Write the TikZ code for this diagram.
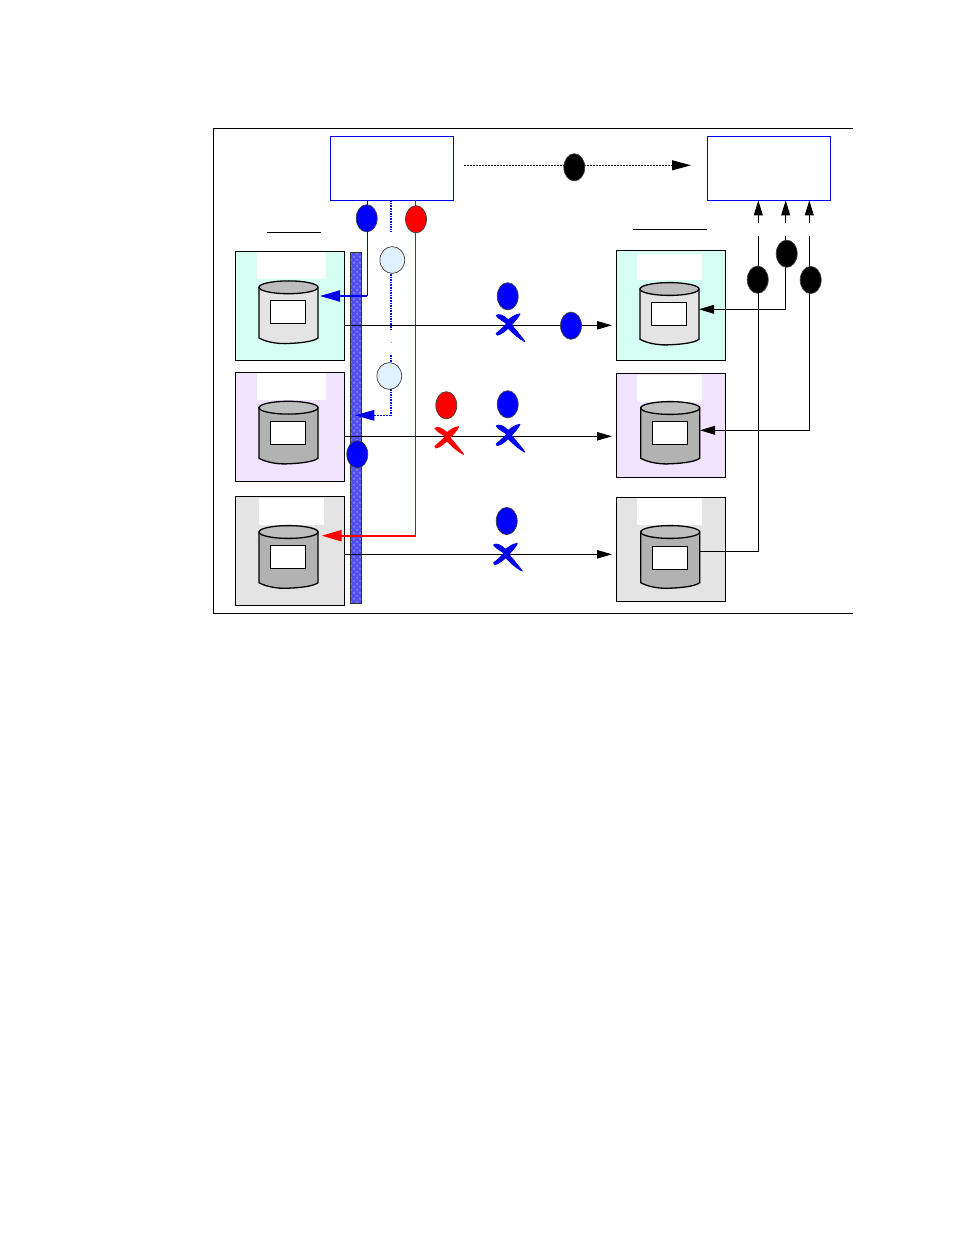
\documentclass[tikz,border=0pt]{standalone}
\usetikzlibrary{arrows.meta,shapes.geometric,calc,patterns}
\definecolor{mintbg}{HTML}{D4FFF2}
\definecolor{lilacbg}{HTML}{F0E3FE}
\definecolor{greybg}{HTML}{E4E4E4}
\definecolor{drumlight}{HTML}{E4E4E4}
\definecolor{drumdark}{HTML}{B2B2B2}
\definecolor{drumtop}{HTML}{BEBEBE}
\definecolor{busblue}{HTML}{5050F0}
\definecolor{busdot}{HTML}{9090FF}
\definecolor{paleblue}{HTML}{DFF0FF}
\definecolor{linkblue}{HTML}{0000F0}
\tikzset{
  every node/.style={inner sep=0pt,outer sep=0pt},
  hostbox/.style={draw=linkblue,line width=.55pt,fill=white,minimum width=61.5pt,minimum height=32pt},
  sitebox/.style={draw=black,line width=.55pt,minimum width=54.5pt},
  patch/.style={fill=white,minimum height=13.5pt},
  volrect/.style={draw=black,line width=.5pt,fill=white,minimum width=17.7pt,minimum height=11.7pt},
  tag/.style={ellipse,draw=black!75,line width=.35pt,minimum width=10.5pt,minimum height=13.6pt},
  bluetag/.style={tag,fill=blue},
  redtag/.style={tag,fill=red},
  blacktag/.style={tag,fill=black},
  paletag/.style={tag,fill=paleblue,minimum width=12.4pt,minimum height=13.4pt},
  rule/.style={draw=black,line width=.5pt},
  link/.style={draw=black,line width=.5pt},
  head/.style={-{Triangle[length=7.5pt,width=4.2pt]}},
  smallhead/.style={-{Triangle[length=7.5pt,width=4.4pt]}},
  thinblue/.style={draw=linkblue,line width=.5pt},
  thinred/.style={draw=red!85!black,line width=.5pt},
  dotblue/.style={draw=linkblue,line width=.75pt,dash pattern=on .8pt off .5pt},
  bighead/.style={-{Triangle[length=10pt,width=5.6pt]}},
}
% #1 name, #2 left x, #3 lid centre y, #4 side end y, #5 body colour
\newcommand{\drum}[5]{%
  \path[draw=black,line width=.65pt,fill=#5]
    (#2,#3) -- (#2,#4)
    .. controls ($(#2,#4)+(9,5)$) and ($(#2,#4)+(22,6)$) .. ($(#2,#4)+(29,5.5)$)
    .. controls ($(#2,#4)+(38,5.2)$) and ($(#2,#4)+(54,4)$) .. ($(#2,#4)+(59,0)$)
    -- ($(#2,#3)+(59,0)$) -- cycle;
  \path[draw=black,line width=.65pt,fill=drumtop] ($(#2,#3)+(29.5,0)$) ellipse[x radius=14.75pt,y radius=3.2pt];
  \node[minimum width=29.5pt,minimum height=1pt] (#1) at ($(#2,#3)+(29.5,0)$) {};
}
% #1, #2 centre of the hand-drawn cross, #3 colour
\newcommand{\crossmark}[3]{%
  \filldraw[#3,line width=.55pt,line join=round,shift={(#1,#2)}]
    (-12,9) .. controls (-6,4) and (-3,1) .. (-1.5,-1)
    .. controls (-4,-3) and (-9,-5) .. (-12,-9)
    .. controls (-9,-11) and (-5,-9) .. (0,-4.5)
    .. controls (3,-7) and (7,-10) .. (11.5,-10.5)
    .. controls (10,-7) and (6,-3) .. (3,0.5)
    .. controls (7,5) and (12,11) .. (16.5,17)
    .. controls (11,14) and (6,10) .. (0,3.5)
    .. controls (-3,6) and (-7,10) .. (-11,10.5) -- cycle;
}
\begin{document}
\begin{tikzpicture}[x=.5pt,y=-.5pt]
\useasboundingbox (0,0) rectangle (954,1235);
\path[fill=white] (0,0) rectangle (954,1235);

% outer frame, open on its right side
\coordinate (frameTR) at (853,128.5);
\coordinate (frameTL) at (213.5,128.5);
\coordinate (frameBL) at (213.5,613.5);
\coordinate (frameBR) at (853,613.5);
\draw[rule] (frameTR) -- (frameTL) -- (frameBL) -- (frameBR);

% column rules
\coordinate (ruleLa) at (267.3,232.3);
\coordinate (ruleLb) at (320.7,232.3);
\coordinate (ruleRa) at (633.3,229.3);
\coordinate (ruleRb) at (706.7,229.3);
\draw[rule] (ruleLa) -- (ruleLb);
\draw[rule] (ruleRa) -- (ruleRb);

% host boxes
\node[hostbox] (hostL) at (391.8,168.3) {};
\node[hostbox] (hostR) at (768.8,168.3) {};

% left sites
\node[sitebox,fill=mintbg,minimum height=54.5pt] (siteLa) at (289.8,305.8) {};
\node[sitebox,fill=lilacbg,minimum height=54.5pt] (siteLb) at (289.8,426.8) {};
\node[sitebox,fill=greybg,minimum height=54.5pt] (siteLc) at (289.8,550.8) {};
\node[patch,minimum width=34.5pt] (patchLa) at (291.5,265.5) {};
\node[patch,minimum width=34.5pt] (patchLb) at (291.5,386.8) {};
\node[patch,minimum width=32.5pt] (patchLc) at (291.5,511) {};

% right sites
\node[sitebox,fill=mintbg,minimum height=55pt] (siteRa) at (670.8,305.3) {};
\node[sitebox,fill=lilacbg,minimum height=51.8pt] (siteRb) at (670.8,425.5) {};
\node[sitebox,fill=greybg,minimum height=52pt] (siteRc) at (670.8,549.3) {};
\node[patch,minimum width=32.5pt,minimum height=12.9pt] (patchRa) at (669.5,266.9) {};
\node[patch,minimum width=32.5pt] (patchRb) at (669.5,388.3) {};
\node[patch,minimum width=32.5pt] (patchRc) at (669.5,511.8) {};

% drums with their volume labels
\drum{drumLa}{259}{287.3}{338}{drumlight}
\drum{drumLb}{259}{407.7}{458.3}{drumdark}
\drum{drumLc}{259}{532}{582.7}{drumdark}
\drum{drumRa}{640}{289}{339.3}{drumlight}
\drum{drumRb}{640.7}{408}{458.3}{drumdark}
\drum{drumRc}{640.7}{532}{582.7}{drumdark}
\node[volrect] (volLa) at (288,312.3) {};
\node[volrect] (volLb) at (288,432.8) {};
\node[volrect] (volLc) at (288,556.8) {};
\node[volrect] (volRa) at (669,314) {};
\node[volrect] (volRb) at (670,432.8) {};
\node[volrect] (volRc) at (670,557.8) {};

% shared bus: dotted fill over a solid ground
\node[draw=black!80,line width=.4pt,fill=busblue,minimum width=5.7pt,minimum height=175.3pt] (bus) at (356,428) {};
\fill[pattern=crosshatch dots,pattern color=busdot] (bus.north west) rectangle (bus.south east);
\draw[black!80,line width=.4pt] (bus.north west) rectangle (bus.south east);

% control links out of the left host
\coordinate (tapB) at (367.3,296);
\coordinate (tipB) at (320,296);
\coordinate (tapR) at (415.7,535.7);
\coordinate (tipR) at (321.7,535.7);
\draw[thinred] (hostL.south -| tapR) -- (tapR);
\draw[draw=red,line width=.85pt,bighead] (tapR) -- (tipR);
\draw[thinblue] (hostL.south -| tapB) -- (tapB);
\draw[draw=linkblue,line width=.85pt,bighead] (tapB) -- (tipB);

% dotted path through the two pale markers
\coordinate (dotA) at (391,232);
\coordinate (dotB) at (391,274);
\coordinate (dotC) at (391,329);
\coordinate (dotD) at (391,341.5);
\coordinate (dotE) at (391,343);
\coordinate (dotF) at (391,355);
\coordinate (dotG) at (391,363);
\coordinate (dotH) at (391,389);
\coordinate (dotI) at (391,415.3);
\coordinate (dotTip) at (355.3,415.3);
\draw[dotblue] (hostL.south -| dotA) -- (dotA);
\draw[dotblue] (dotB) -- (dotC);
\draw[draw=linkblue!40,line width=.5pt] (dotD) -- (dotE);
\draw[dotblue] (dotF) -- (dotG);
\draw[dotblue] (dotH) -- (dotI);
\draw[thinblue,dash pattern=on 1pt off .5pt] (dotI) -- (dotTip);
\fill[linkblue] (dotTip) -- ++(19,-5.5) -- ++(0,11) -- cycle;

% replication links between the sites
\coordinate (endA) at (612,325.3);
\coordinate (endB) at (612,436.3);
\coordinate (endC) at (612,554.3);
\draw[link,head] (siteLa.east |- endA) -- (endA);
\draw[link,head] (siteLb.east |- endB) -- (endB);
\draw[link,head] (siteLc.east |- endC) -- (endC);

% dotted link between the hosts
\coordinate (syncA) at (464,165.3);
\coordinate (syncB) at (691,165.3);
\draw[draw=black,line width=.5pt,dash pattern=on .9pt off .6pt,-{Triangle[length=9.5pt,width=5pt]}] (syncA) -- (syncB);

% status links on the right, going up to the right host
\coordinate (upA) at (758.3,222.7);
\coordinate (upB) at (785.7,222.7);
\coordinate (upC) at (809.3,222.7);
\draw[link,smallhead] (upA) -- (upA |- hostR.south);
\draw[link,smallhead] (upB) -- (upB |- hostR.south);
\draw[link,smallhead] (upC) -- (upC |- hostR.south);
\coordinate (sA) at (758.3,236);
\coordinate (sB) at (785.7,236);
\coordinate (sC) at (809.3,236);
\coordinate (bendA) at (758.3,551.3);
\coordinate (bendB) at (785.7,309.3);
\coordinate (bendC) at (809.3,430.3);
\coordinate (tipRa) at (699,309.3);
\coordinate (tipRb) at (700,430.3);
\coordinate (tipRc) at (699.7,551.3);
\draw[link] (sA) -- (bendA) -- (tipRc);
\draw[link,{Triangle[length=7.5pt,width=4.4pt]}-] (tipRa) -- (bendB) -- (sB);
\draw[link,{Triangle[length=7.5pt,width=4.4pt]}-] (tipRb) -- (bendC) -- (sC);

% markers
\node[bluetag] (tagA) at (366.7,218.3) {};
\node[redtag] (tagB) at (416,219.3) {};
\node[blacktag] (tagC) at (574.3,167.3) {};
\node[paletag] (tagD) at (392.3,260) {};
\node[paletag] (tagE) at (389.3,376) {};
\node[bluetag] (tagF) at (357.3,454.3) {};
\node[bluetag] (tagG) at (507.7,296.3) {};
\node[bluetag] (tagH) at (571,325.7) {};
\node[bluetag] (tagI) at (507.7,404.3) {};
\node[redtag] (tagJ) at (446.3,405.3) {};
\node[bluetag] (tagK) at (506.7,521) {};
\node[blacktag] (tagL) at (757.7,279.7) {};
\node[blacktag] (tagM) at (786.7,253.7) {};
\node[blacktag] (tagN) at (810.7,280) {};

% crosses on the broken links
\crossmark{508.3}{324.5}{linkblue}
\crossmark{508.3}{435}{linkblue}
\crossmark{447}{437.3}{red}
\crossmark{505.7}{554}{linkblue}
\end{tikzpicture}
\end{document}
